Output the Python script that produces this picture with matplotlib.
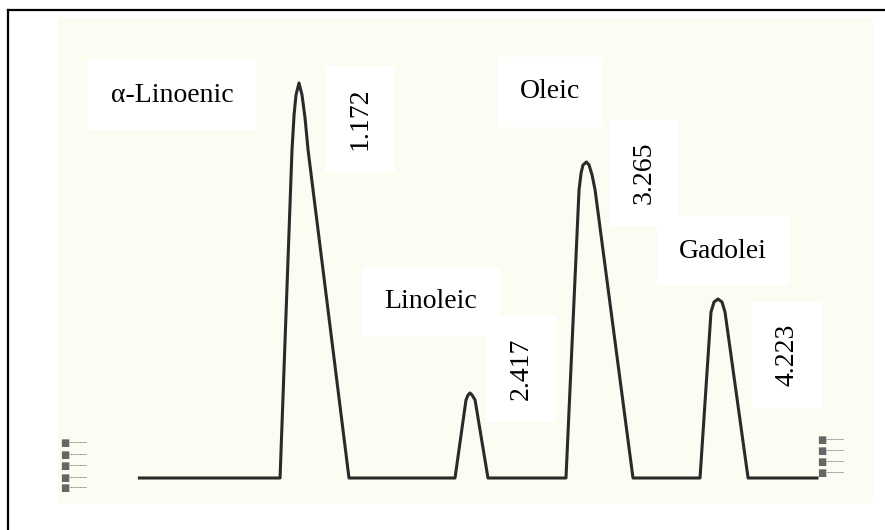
import matplotlib
matplotlib.use('Agg')
import matplotlib.pyplot as plt
from matplotlib.patches import Rectangle

# chromatogram trace: retention time (min) and detector signal (a.u.)
rt = [0.01, 1.034, 1.121, 1.136, 1.150, 1.172, 1.194, 1.216, 1.238, 1.536,
      2.308, 2.388, 2.403, 2.417, 2.432, 2.454, 2.548,
      3.116, 3.211, 3.226, 3.240, 3.265, 3.284, 3.306, 3.328, 3.604,
      4.092, 4.172, 4.194, 4.223, 4.252, 4.274, 4.442, 4.944]
signal = [0, 0, 328, 363, 383, 395, 383, 360, 328, 0,
          0, 78, 83, 85, 83, 78, 0,
          0, 288, 305, 313, 316, 313, 303, 288, 0,
          0, 166, 176, 179, 176, 166, 0, 0]

peak_names = ['\u03b1-Linoenic', 'Linoleic', 'Oleic', 'Gadolei']
peak_rt = ['1.172', '2.417', '3.265', '4.223']

# label anchors (rt, signal)
name_pos = [(0.247, 383), (2.133, 176), (3.002, 386), (4.259, 227)]
rt_pos = [(1.616, 359), (2.789, 109), (3.684, 305), (4.726, 123)]

fig = plt.figure(figsize=(8.85, 5.3), dpi=100)
fig.patch.set_facecolor('white')
ax = fig.add_axes([0, 0, 1, 1])
ax.set_xlim(-1.0052, 5.4390)
ax.set_ylim(-52, 478)
ax.axis('off')

# scanned paper tone
ax.add_patch(Rectangle((58 / 885, 27 / 530), 815 / 885, 485 / 530, transform=ax.transAxes,
                       facecolor='#fcfcf3', edgecolor='none', zorder=0))

ax.plot(rt, signal, color='#2a2a2a', lw=2.2, solid_joinstyle='round', zorder=3)

serif = ['Liberation Serif', 'DejaVu Serif']
box = dict(boxstyle='square,pad=0.8', fc='white', ec='none')
for name, (x, y) in zip(peak_names, name_pos):
    ax.text(x, y, name, fontsize=20, family=serif, ha='center', va='center', bbox=box, zorder=2)
for lab, (x, y) in zip(peak_rt, rt_pos):
    ax.text(x, y, lab, fontsize=20, family=serif, ha='center', va='center', rotation=90,
            bbox=box, zorder=2)

# tiny illegible print-out marks at both ends of the baseline
for y in [0.164, 0.142, 0.121, 0.099, 0.079]:
    ax.text(60 / 885, y, '\u25a0\u2508\u2508\u2508', transform=ax.transAxes, fontsize=7,
            color='#666666', va='center', family='DejaVu Sans')
for y in [0.170, 0.149, 0.128, 0.107]:
    ax.text(817 / 885, y, '\u25a0\u2508\u2508\u2508', transform=ax.transAxes, fontsize=7,
            color='#666666', va='center', family='DejaVu Sans')

# page frame (left and top visible)
fig.add_artist(plt.Line2D([8 / 885, 8 / 885], [0, 1 - 10 / 530], color='black', lw=1.6))
fig.add_artist(plt.Line2D([8 / 885, 1], [1 - 10 / 530, 1 - 10 / 530], color='black', lw=1.6))

fig.savefig('out.png', dpi=100, facecolor='white')
